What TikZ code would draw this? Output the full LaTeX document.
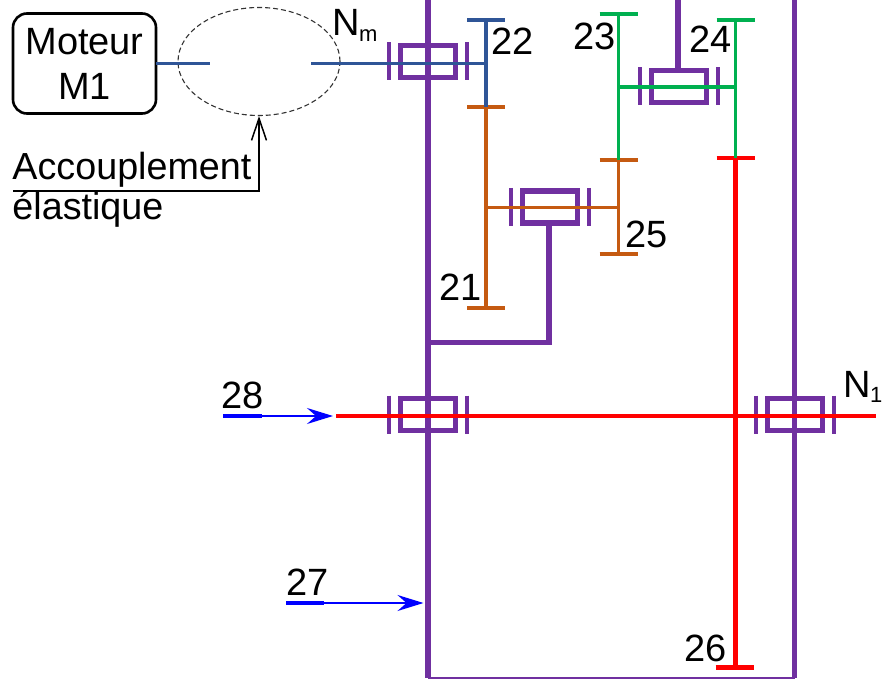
\documentclass[tikz,border=0pt]{standalone}
\usepackage{fontspec}
\setmainfont{Liberation Sans}
\usetikzlibrary{arrows.meta,shapes.geometric}
\definecolor{cpurple}{HTML}{7030A0}
\definecolor{cblue}{HTML}{2F5597}
\definecolor{corange}{HTML}{C55A11}
\definecolor{cgreen}{HTML}{00B050}
\definecolor{cred}{HTML}{FF0000}
\definecolor{carrow}{HTML}{0000FF}
\tikzset{
  lbl/.style={inner sep=0pt,outer sep=0pt,anchor=base west,font=\fontsize{38}{40}\selectfont},
  bearingbox/.style={draw=cpurple,line width=5.5pt,minimum width=55pt,minimum height=32pt,inner sep=0pt,outer sep=0pt},
  bearingtick/.style={draw=cpurple,line width=4pt},
  frameline/.style={draw=cpurple,line width=5.8pt},
  shaft/.style={line width=3.8pt},
  tooth/.style={line width=4.4pt},
  callarrow/.style={draw=carrow,line width=2pt,-{Stealth[length=26pt,width=16pt,inset=9pt]}},
  callbar/.style={draw=carrow,line width=4pt},
}
\newcommand{\bearingat}[3]{%
  \node[bearingbox] (#1) at (#2,#3) {};
  \draw[bearingtick] ([xshift=-39pt,yshift=19pt]#1.center) -- ([xshift=-39pt,yshift=-19pt]#1.center);
  \draw[bearingtick] ([xshift=39pt,yshift=19pt]#1.center) -- ([xshift=39pt,yshift=-19pt]#1.center);
}
\newcommand{\toothat}[4]{%
  \draw[tooth,draw=#4] (#1-19,#2) -- (#1+19,#2);
  \coordinate (#3) at (#1,#2);
}
\begin{document}
\begin{tikzpicture}[x=1pt,y=-1pt]
\useasboundingbox (0,0) rectangle (888,679);
% frame
\coordinate (ltop) at (428,-3);
\coordinate (lbot) at (428,678);
\coordinate (rtop) at (794.5,-3);
\coordinate (rbot) at (794.5,678);
\coordinate (sjoin) at (549,342.5);
\coordinate (ljoin) at (428,342.5);
\coordinate (ttop) at (678,-3);
\draw[frameline] (ltop) -- (lbot);
\draw[frameline] (rtop) -- (rbot);
\draw[draw=cpurple,line width=1.6pt] (lbot) -- (rbot);
\bearingat{bA}{428}{61.5}
\bearingat{bB}{550}{207}
\bearingat{bC}{679}{86.5}
\bearingat{bD}{428}{414.5}
\bearingat{bE}{795}{414.5}
\draw[frameline] (bB.south -| sjoin) -- (sjoin) -- (ljoin);
\draw[frameline] (ttop) -- (ttop |- bC.north);
% motor and coupling
\node[draw=black,line width=2.6pt,rounded corners=14pt,minimum width=143pt,minimum height=100pt,inner sep=0pt,outer sep=0pt,align=center,font=\fontsize{38}{45}\selectfont] (motor) at (84.5,63.5) {Moteur\\M1};
\node[ellipse,draw=black!80,dashed,dash pattern=on 5pt off 3pt,line width=1.1pt,minimum width=162pt,minimum height=108pt,inner sep=0pt] (coupling) at (259,61.5) {};
\coordinate (sA) at (210,63.5);
\coordinate (sB) at (311,63.5);
\coordinate (g22) at (486,63.5);
% gears
\toothat{486}{20}{t22}{cblue}
\toothat{486}{107}{m21}{corange}
\toothat{486}{308}{b21}{corange}
\toothat{618.5}{14}{t23}{cgreen}
\toothat{618.5}{160}{t25}{corange}
\toothat{618.5}{254}{b25}{corange}
\toothat{735.5}{20}{t24}{cgreen}
\toothat{735.5}{158}{t26}{cred}
\toothat{734.5}{667.5}{b26}{cred}
\coordinate (o1) at (486,207.5);
\coordinate (o2) at (618.5,207.5);
\coordinate (g1) at (618.5,87);
\coordinate (g2) at (735.5,87);
\coordinate (rl) at (336,416);
\coordinate (rr) at (876,416);
% shafts
\draw[shaft,draw=cblue] (motor.east |- sA) -- (sA);
\draw[shaft,draw=cblue] (sB) -- (g22);
\draw[shaft,draw=cblue] (t22) -- (m21);
\draw[shaft,draw=corange] (m21) -- (b21);
\draw[shaft,draw=corange] (o1) -- (o2);
\draw[shaft,draw=corange] (t25) -- (b25);
\draw[shaft,draw=cgreen] (t23) -- (t25);
\draw[shaft,draw=cgreen] (t24) -- (t26);
\draw[shaft,draw=cgreen] (g1) -- (g2);
\draw[line width=4.4pt,draw=cred] (t26) -- (b26 -| t26);
\draw[line width=4.4pt,draw=cred] (rl) -- (rr);
% labels
\node[lbl] (lNm) at (332,36) {N};
\node[lbl,font=\fontsize{22}{24}\selectfont] (lNmS) at (359,42) {m};
\node[lbl] (lN1) at (843,397) {N};
\node[lbl,font=\fontsize{22}{24}\selectfont] (lN1S) at (870,402) {1};
\node[lbl] (l22) at (491.5,55) {22};
\node[lbl] (l23) at (573,50) {23};
\node[lbl] (l24) at (689,53) {24};
\node[lbl] (l25) at (625,247) {25};
\node[lbl] (l21) at (439,300) {21};
\node[lbl] (l28) at (221,408) {28};
\node[lbl] (l27) at (286,595) {27};
\node[lbl] (l26) at (684,661) {26};
% callouts
\coordinate (a28s) at (223,416);
\coordinate (a28m) at (262,416);
\coordinate (a28e) at (333,416);
\coordinate (a27s) at (286,603);
\coordinate (a27m) at (324,603);
\coordinate (a27e) at (423.5,603);
\draw[callarrow] (a28s) -- (a28e);
\draw[callbar] (a28s) -- (a28m);
\draw[callarrow] (a27s) -- (a27e);
\draw[callbar] (a27s) -- (a27m);
\node[inner sep=0pt,outer sep=0pt,anchor=north west,align=left,font=\fontsize{37.7}{40}\selectfont] (acc) at (12.5,152) {Accouplement\\élastique};
\coordinate (cs) at (13,191);
\coordinate (cc) at (259,191);
\draw[line width=2.4pt,draw=black,-{Straight Barb[length=22pt,width=15pt,line width=1.5pt]}] (cs) -- (cc) -- (coupling.south);
\end{tikzpicture}
\end{document}
